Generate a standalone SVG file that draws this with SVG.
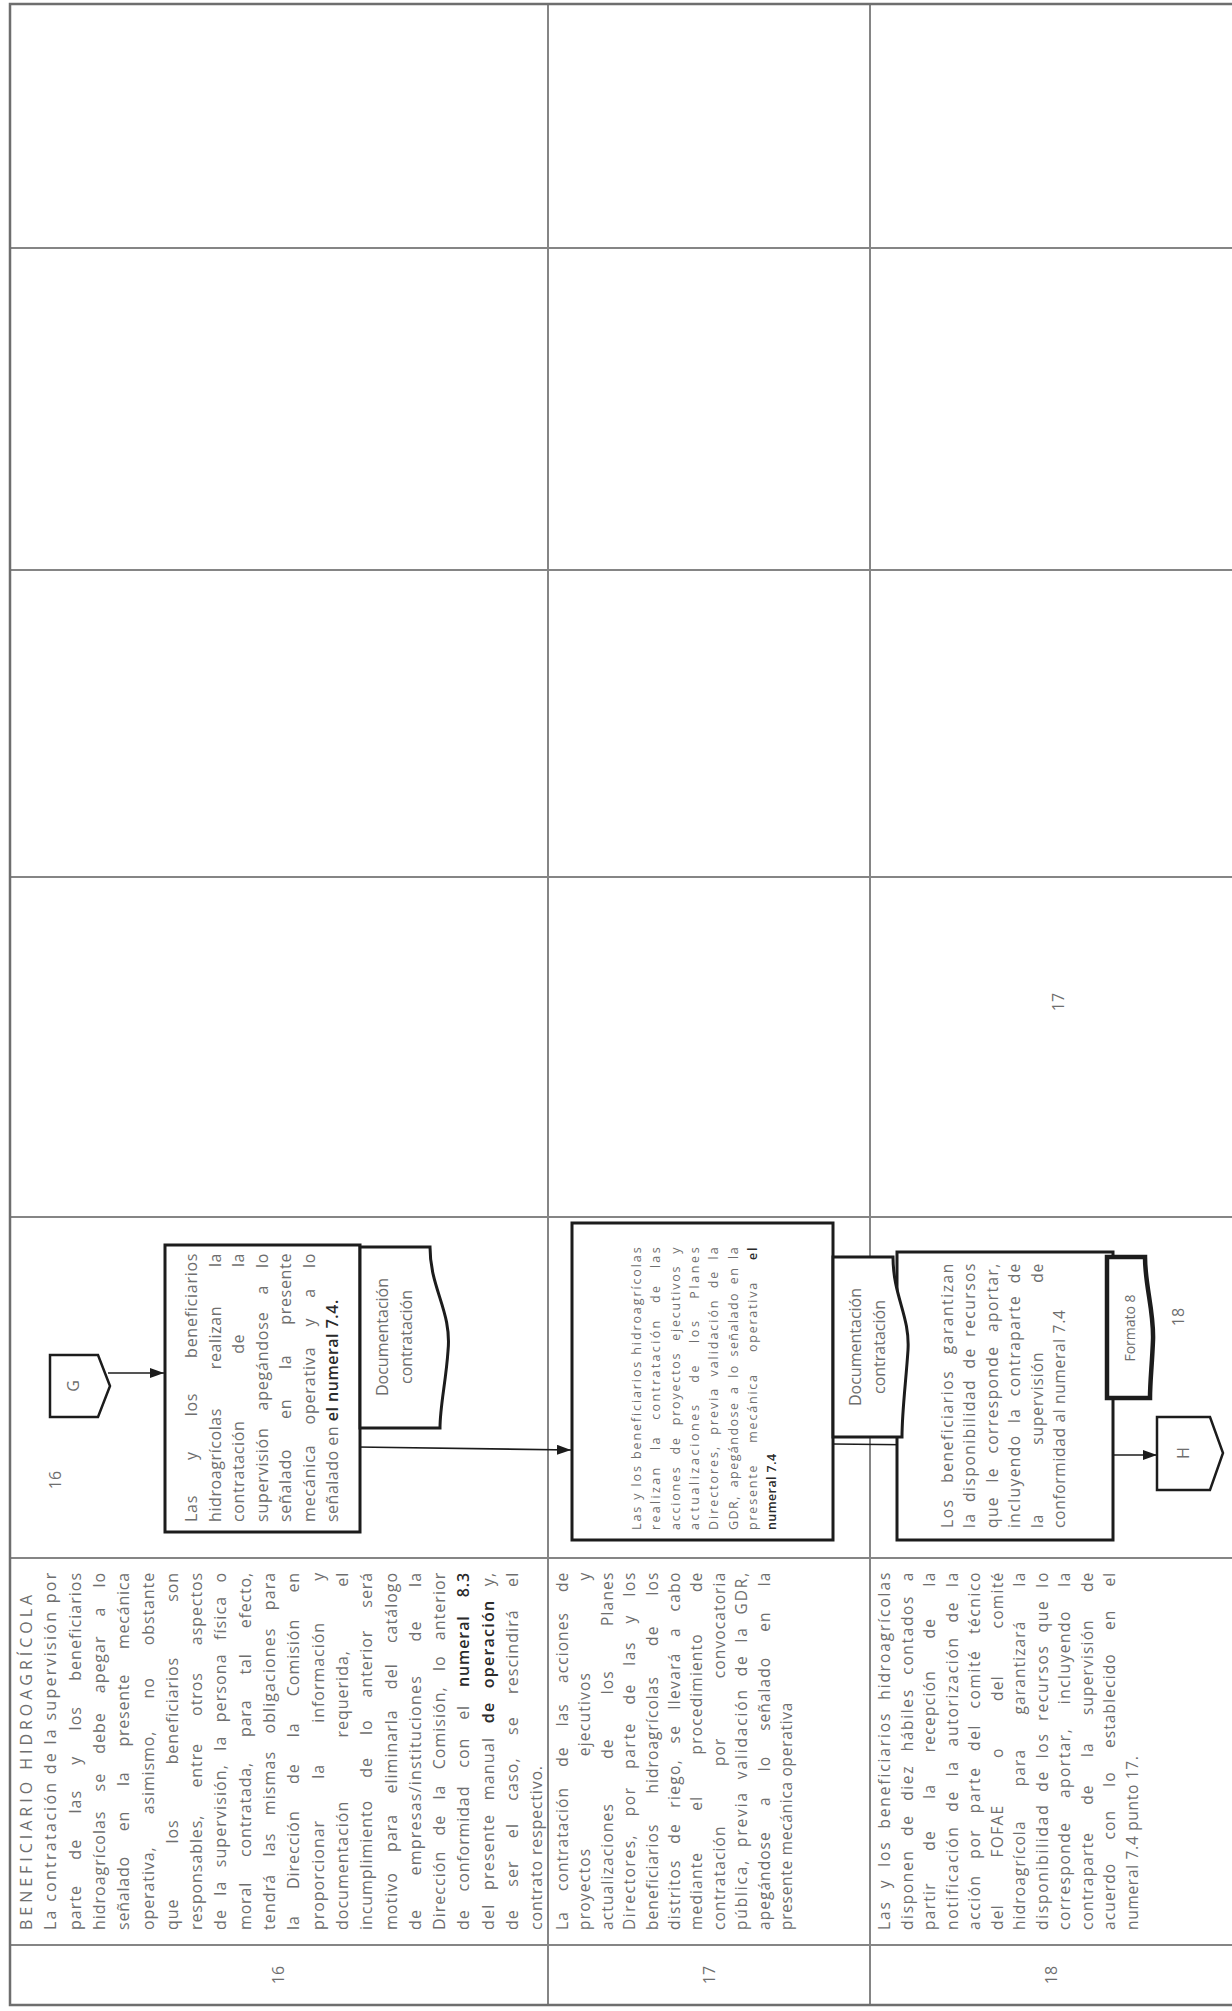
<svg xmlns="http://www.w3.org/2000/svg" width="1232" height="2011" viewBox="0 0 1232 2011">
<style>
.grid{stroke:#858585;stroke-width:2;fill:none}
.outer{stroke:#6e6e6e;stroke-width:2.5;fill:none}
.box{fill:#fff;stroke:#1c1c1c;stroke-width:3}
.doc{fill:#fff;stroke:#1c1c1c;stroke-width:3}
.docb{fill:#fff;stroke:#1c1c1c;stroke-width:4.5}
.conn{fill:#fff;stroke:#1c1c1c;stroke-width:2.5}
.t{font-family:"Open Sans","Liberation Sans",sans-serif;fill:#6e6e6e}
.d16{font-size:16px;letter-spacing:0.8px}
.d{font-size:15.5px;letter-spacing:0.7px}
.bx{font-size:16px;letter-spacing:0.5px}
.bs{font-size:12.5px;letter-spacing:0.4px}
.lbl{font-size:16px}
.k{fill:#2a2a2a;font-weight:600}
.edge{stroke:#1c1c1c;stroke-width:1.6;fill:none}
</style>
<defs>
<marker id="ah" markerUnits="userSpaceOnUse" markerWidth="15" markerHeight="11" refX="14" refY="5" orient="auto">
<path d="M0,0 L14,5 L0,10 Z" fill="#1c1c1c"/>
</marker>
</defs>
<rect x="0" y="0" width="1232" height="2011" fill="#fff"/>
<g transform="translate(0 2011) rotate(-90)">
<g id="table">
<path class="grid" d="M66,10 V1232 M453,10 V1232 M794,10 V1232 M1134,10 V1232 M1441,10 V1232 M1763,10 V1232 M6,548 H2007 M6,870 H2007"/>
<path class="outer" d="M6,1232 V10 H2007 V1232"/>
</g>
<g id="numbers">
<text class="t lbl" x="36" y="284" text-anchor="middle">16</text>
<text class="t lbl" x="36" y="715" text-anchor="middle">17</text>
<text class="t lbl" x="36" y="1057" text-anchor="middle">18</text>
</g>
<g id="desc16" class="t d16">
<text x="81" y="32" textLength="336" lengthAdjust="spacing">BENEFICIARIO HIDROAGRÍCOLA</text>
<text x="81" y="56.3" textLength="358" lengthAdjust="spacing">La contratación de la supervisión por</text>
<text x="81" y="80.6" textLength="358" lengthAdjust="spacing" word-spacing="20">parte de las y los beneficiarios</text>
<text x="81" y="104.9" textLength="358" lengthAdjust="spacing" word-spacing="14">hidroagrícolas se debe apegar a lo</text>
<text x="81" y="129.2" textLength="358" lengthAdjust="spacing" word-spacing="20">señalado en la presente mecánica</text>
<text x="81" y="153.5" textLength="358" lengthAdjust="spacing" word-spacing="27">operativa, asimismo, no obstante</text>
<text x="81" y="177.8" textLength="358" lengthAdjust="spacing" word-spacing="50">que los beneficiarios son</text>
<text x="81" y="202.1" textLength="358" lengthAdjust="spacing" word-spacing="22">responsables, entre otros aspectos</text>
<text x="81" y="226.4" textLength="358" lengthAdjust="spacing" word-spacing="8">de la supervisión, la persona física o</text>
<text x="81" y="250.7" textLength="358" lengthAdjust="spacing" word-spacing="20">moral contratada, para tal efecto,</text>
<text x="81" y="275" textLength="358" lengthAdjust="spacing" word-spacing="12">tendrá las mismas obligaciones para</text>
<text x="81" y="299.3" textLength="358" lengthAdjust="spacing" word-spacing="21">la Dirección de la Comisión en</text>
<text x="81" y="323.6" textLength="358" lengthAdjust="spacing" word-spacing="36">proporcionar la información y</text>
<text x="81" y="347.9" textLength="358" lengthAdjust="spacing" word-spacing="58">documentación requerida, el</text>
<text x="81" y="372.2" textLength="358" lengthAdjust="spacing" word-spacing="17">incumplimiento de lo anterior será</text>
<text x="81" y="396.5" textLength="358" lengthAdjust="spacing" word-spacing="15">motivo para eliminarla del catálogo</text>
<text x="81" y="420.8" textLength="358" lengthAdjust="spacing" word-spacing="28">de empresas/instituciones de la</text>
<text x="81" y="445.1" textLength="358" lengthAdjust="spacing" word-spacing="10">Dirección de la Comisión, lo anterior</text>
<text x="81" y="469.4" textLength="358" lengthAdjust="spacing" word-spacing="13">de conformidad con el <tspan class="k">numeral 8.3</tspan></text>
<text x="81" y="493.7" textLength="358" lengthAdjust="spacing" word-spacing="8">del presente manual <tspan class="k">de operación</tspan> y,</text>
<text x="81" y="518" textLength="358" lengthAdjust="spacing" word-spacing="17">de ser el caso, se rescindirá el</text>
<text x="81" y="542.3">contrato respectivo.</text>
</g>
<g id="desc17" class="t d">
<text x="81" y="568" textLength="358" lengthAdjust="spacing" word-spacing="15">La contratación de las acciones de</text>
<text x="81" y="590.4" textLength="358" lengthAdjust="spacing" word-spacing="86">proyectos ejecutivos y</text>
<text x="81" y="612.8" textLength="358" lengthAdjust="spacing" word-spacing="39">actualizaciones de los Planes</text>
<text x="81" y="635.2" textLength="358" lengthAdjust="spacing" word-spacing="12">Directores, por parte de las y los</text>
<text x="81" y="657.6" textLength="358" lengthAdjust="spacing" word-spacing="25">beneficiarios hidroagrícolas de los</text>
<text x="81" y="680" textLength="358" lengthAdjust="spacing" word-spacing="10">distritos de riego, se llevará a cabo</text>
<text x="81" y="702.4" textLength="358" lengthAdjust="spacing" word-spacing="36">mediante el procedimiento de</text>
<text x="81" y="724.8" textLength="358" lengthAdjust="spacing" word-spacing="54">contratación por convocatoria</text>
<text x="81" y="747.2" textLength="358" lengthAdjust="spacing" word-spacing="6">pública, previa validación de la GDR,</text>
<text x="81" y="769.6" textLength="358" lengthAdjust="spacing" word-spacing="20">apegándose a lo señalado en la</text>
<text x="81" y="792">presente mecánica operativa</text>
</g>
<g id="desc18" class="t d">
<text x="81" y="890" textLength="358" lengthAdjust="spacing" word-spacing="6">Las y los beneficiarios hidroagrícolas</text>
<text x="81" y="912.5" textLength="358" lengthAdjust="spacing" word-spacing="8">disponen de diez hábiles contados a</text>
<text x="81" y="935" textLength="358" lengthAdjust="spacing" word-spacing="26">partir de la recepción de la</text>
<text x="81" y="957.5" textLength="358" lengthAdjust="spacing" word-spacing="8">notificación de la autorización de la</text>
<text x="81" y="980" textLength="358" lengthAdjust="spacing" word-spacing="10">acción por parte del comité técnico</text>
<text x="81" y="1002.5" textLength="358" lengthAdjust="spacing" word-spacing="41">del FOFAE o del comité</text>
<text x="81" y="1025" textLength="358" lengthAdjust="spacing" word-spacing="29">hidroagrícola para garantizará la</text>
<text x="81" y="1047.5" textLength="358" lengthAdjust="spacing" word-spacing="6">disponibilidad de los recursos que lo</text>
<text x="81" y="1070" textLength="358" lengthAdjust="spacing" word-spacing="18">corresponde aportar, incluyendo la</text>
<text x="81" y="1092.5" textLength="358" lengthAdjust="spacing" word-spacing="22">contraparte de la supervisión de</text>
<text x="81" y="1115" textLength="358" lengthAdjust="spacing" word-spacing="18">acuerdo con lo establecido en el</text>
<text x="81" y="1137.5">numeral 7.4 punto 17.</text>
</g>
<g id="lane-labels">
<text class="t lbl" x="531" y="61" text-anchor="middle">16</text>
<text class="t lbl" x="1009" y="1064" text-anchor="middle">17</text>
<text class="t lbl" x="694" y="1184" text-anchor="middle">18</text>
</g>
<g id="connectors">
<path class="edge" d="M638,108 L638,164" marker-end="url(#ah)"/>
<path class="edge" d="M564,357 L561,571" marker-end="url(#ah)"/>
<path class="edge" d="M567,833 L566,927" marker-end="url(#ah)"/>
<path class="edge" d="M556,1077 L556,1157" marker-end="url(#ah)"/>
</g>
<g id="node-G">
<path class="conn" d="M656,50 L656,98 L625,110 L594,98 L594,50 Z"/>
<text class="t lbl" x="625" y="79" text-anchor="middle">G</text>
</g>
<g id="node-16">
<rect class="box" x="479" y="165" width="287" height="195"/>
<g class="t bx">
<text x="489" y="197" textLength="269" lengthAdjust="spacing" word-spacing="30">Las y los beneficiarios</text>
<text x="489" y="220.5" textLength="269" lengthAdjust="spacing" word-spacing="34">hidroagrícolas realizan la</text>
<text x="489" y="244" textLength="269" lengthAdjust="spacing" word-spacing="62">contratación de la</text>
<text x="489" y="267.5" textLength="269" lengthAdjust="spacing" word-spacing="12">supervisión apegándose a lo</text>
<text x="489" y="291" textLength="269" lengthAdjust="spacing" word-spacing="25">señalado en la presente</text>
<text x="489" y="314.5" textLength="269" lengthAdjust="spacing" word-spacing="15">mecánica operativa y a lo</text>
<text x="489" y="338">señalado en <tspan class="k">el numeral 7.4.</tspan></text>
</g>
</g>
<g id="doc-16">
<path class="doc" d="M583,360 H764 V430 C 722,430 700,452 660,448 C 630,446 605,440 583,440 Z"/>
<text class="t lbl" x="674" y="388" text-anchor="middle">Documentación</text>
<text class="t lbl" x="674" y="412" text-anchor="middle">contratación</text>
</g>
<g id="node-17">
<rect class="box" x="471" y="572" width="317" height="261"/>
<g class="t bs">
<text x="481" y="641" textLength="283" lengthAdjust="spacing">Las y los beneficiarios hidroagrícolas</text>
<text x="481" y="660.3" textLength="283" lengthAdjust="spacing" word-spacing="10">realizan la contratación de las</text>
<text x="481" y="679.6" textLength="283" lengthAdjust="spacing" word-spacing="6">acciones de proyectos ejecutivos y</text>
<text x="481" y="698.9" textLength="283" lengthAdjust="spacing" word-spacing="14">actualizaciones de los Planes</text>
<text x="481" y="718.2" textLength="283" lengthAdjust="spacing" word-spacing="5">Directores, previa validación de la</text>
<text x="481" y="737.5" textLength="283" lengthAdjust="spacing" word-spacing="3">GDR, apegándose a lo señalado en la</text>
<text x="481" y="756.8" textLength="283" lengthAdjust="spacing" word-spacing="16">presente mecánica operativa <tspan class="k">el</tspan></text>
<text x="481" y="776.1" class="k">numeral 7.4</text>
</g>
</g>
<g id="node-18">
<rect class="box" x="471" y="897" width="288" height="216"/>
<g class="t d">
<text x="483" y="953" textLength="265" lengthAdjust="spacing" word-spacing="10">Los beneficiarios garantizan</text>
<text x="483" y="975.4" textLength="265" lengthAdjust="spacing" word-spacing="5">la disponibilidad de recursos</text>
<text x="483" y="997.8" textLength="265" lengthAdjust="spacing" word-spacing="8">que le corresponde aportar,</text>
<text x="483" y="1020.2" textLength="265" lengthAdjust="spacing" word-spacing="6">incluyendo la contraparte de</text>
<text x="483" y="1042.6" textLength="265" lengthAdjust="spacing" word-spacing="64">la supervisión de</text>
<text x="483" y="1065">conformidad al numeral 7.4</text>
</g>
</g>
<g id="doc-17">
<path class="doc" d="M574,833 H754 V893 C 715,893 695,910 661,908 C 630,906 600,902 574,902 Z"/>
<text class="t lbl" x="664" y="861" text-anchor="middle">Documentación</text>
<text class="t lbl" x="664" y="885" text-anchor="middle">contratación</text>
</g>
<g id="doc-formato8">
<path class="docb" d="M613,1107 H754 V1145 C 725,1145 700,1154 671,1153 C 645,1152 630,1150 613,1150 Z"/>
<text class="t" style="font-size:14px" x="683" y="1135" text-anchor="middle">Formato 8</text>
</g>
<g id="node-H">
<path class="conn" d="M594,1157 L594,1210 L558,1223 L521,1210 L521,1157 Z"/>
<text class="t lbl" x="558" y="1189" text-anchor="middle">H</text>
</g>
</g>
</svg>
